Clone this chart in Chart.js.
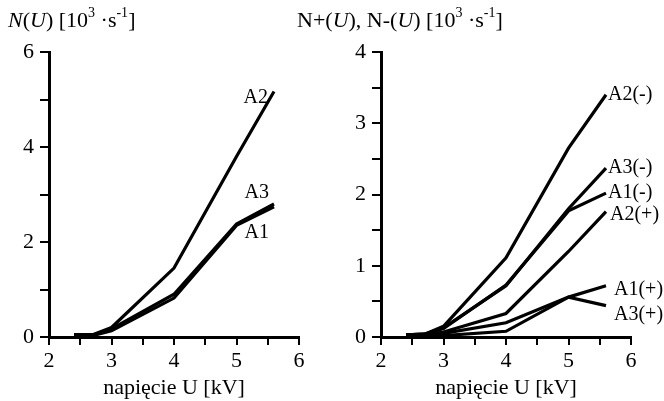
<!DOCTYPE html>
<html>
<head>
<meta charset="utf-8">
<script src="https://cdn.jsdelivr.net/npm/chart.js@4.4.1/dist/chart.umd.min.js"></script>
<style>
  html, body { margin: 0; padding: 0; background: #fff; }
  #wrap { position: relative; width: 664px; height: 401px; overflow: hidden; }
  canvas { position: absolute; top: 0; }
  #cLeft { left: 0; }
  #cRight { left: 332px; }
  .ytitle {
    position: absolute; top: 9px; white-space: nowrap;
    font-family: "Liberation Serif", serif; font-size: 22px; line-height: 22px; color: #000;
  }
  .ytitle sup { font-size: 14px; position: relative; top: -2px; line-height: 0; }
</style>
</head>
<body>
<div id="wrap">
  <canvas id="cLeft" width="332" height="401"></canvas>
  <canvas id="cRight" width="332" height="401"></canvas>
  <div class="ytitle" style="left:8px"><i>N</i>(<i>U</i>) [10<sup>3</sup> ·s<sup>-1</sup>]</div>
  <div class="ytitle" style="left:297px">N+(<i>U</i>), N-(<i>U</i>) [10<sup>3</sup> ·s<sup>-1</sup>]</div>
</div>
<script>
// voltage points (kV), shared by all curves
const voltage = [2.4, 2.7, 3, 4, 5, 5.6];

// left panel: N(U)
const leftNames = ["A1", "A2", "A3"];
const nA1 = [0.03, 0.03, 0.13, 0.82, 2.35, 2.74];
const nA2 = [0.05, 0.05, 0.2, 1.45, 3.8, 5.17];
const nA3 = [0.03, 0.04, 0.17, 0.9, 2.38, 2.8];

// right panel: N+(U), N-(U)
const rightNames = ["A2(-)", "A3(-)", "A1(-)", "A2(+)", "A1(+)", "A3(+)"];
const nA2minus = [0.03, 0.04, 0.15, 1.11, 2.65, 3.4];
const nA3minus = [0.03, 0.04, 0.13, 0.72, 1.8, 2.37];
const nA1minus = [0.03, 0.04, 0.12, 0.73, 1.77, 2.02];
const nA2plus = [0.03, 0.03, 0.07, 0.33, 1.2, 1.76];
const nA1plus = [0.03, 0.03, 0.05, 0.2, 0.56, 0.72];
const nA3plus = [0.03, 0.02, 0.02, 0.08, 0.56, 0.44];

const xTicks = [2, 3, 4, 5, 6];

const FONT = "'Liberation Serif', serif";

function pts(ys) {
  return voltage.map((v, i) => ({ x: v, y: ys[i] }));
}

function ds(label, ys) {
  return {
    label,
    data: pts(ys),
    borderColor: "#000",
    borderWidth: 3.2,
    pointRadius: 0,
    tension: 0,
    fill: false
  };
}

// curve name written next to the last point of each line
const endLabels = {
  id: "endLabels",
  afterDatasetsDraw(chart, args, opts) {
    const ctx = chart.ctx;
    const xs = chart.scales.x, ys = chart.scales.y;
    ctx.save();
    ctx.fillStyle = "#000";
    ctx.font = "20px " + FONT;
    ctx.textBaseline = "middle";
    chart.data.datasets.forEach((d, i) => {
      const last = d.data[d.data.length - 1];
      const o = opts.offsets[i];
      ctx.textAlign = o.align;
      ctx.fillText(d.label, xs.getPixelForValue(last.x) + o.dx, ys.getPixelForValue(last.y) + o.dy);
    });
    ctx.restore();
  }
};

function makeChart(id, datasets, yMax, yStep, yLabelEvery, offsets) {
  return new Chart(document.getElementById(id), {
    type: "line",
    data: { datasets },
    plugins: [endLabels],
    options: {
      responsive: false,
      animation: false,
      layout: { padding: { top: 52, right: 33, left: 0, bottom: 0 } },
      plugins: {
        legend: { display: false },
        tooltip: { enabled: false },
        endLabels: { offsets }
      },
      scales: {
        x: {
          type: "linear",
          min: 2, max: 6,
          afterFit: s => { s.height = 64; },
          border: { color: "#000", width: 3 },
          grid: { display: true, drawOnChartArea: false, color: "#000", lineWidth: 2, tickLength: 8 },
          ticks: {
            stepSize: 0.5,
            color: "#000",
            padding: 3,
            font: { family: FONT, size: 22 },
            callback: v => xTicks.includes(v) ? String(v) : ""
          },
          title: {
            display: true,
            text: "napięcie U [kV]",
            color: "#000",
            font: { family: FONT, size: 22 },
            padding: { top: -6, bottom: 0 }
          }
        },
        y: {
          min: 0, max: yMax,
          afterFit: s => { s.width = 49; },
          border: { color: "#000", width: 3 },
          grid: { display: true, drawOnChartArea: false, color: "#000", lineWidth: 2, tickLength: 9 },
          ticks: {
            stepSize: yStep,
            color: "#000",
            padding: 6,
            font: { family: FONT, size: 22 },
            callback: v => (Math.abs(v / yLabelEvery - Math.round(v / yLabelEvery)) < 1e-6) ? String(v) : ""
          }
        }
      }
    }
  });
}

makeChart("cLeft",
  [ds(leftNames[0], nA1), ds(leftNames[1], nA2), ds(leftNames[2], nA3)],
  6, 1, 2,
  [
    { align: "right", dx: -5, dy: 26 },
    { align: "right", dx: -6, dy: 6 },
    { align: "right", dx: -5, dy: -11 }
  ]);

makeChart("cRight",
  [
    ds(rightNames[0], nA2minus),
    ds(rightNames[1], nA3minus),
    ds(rightNames[2], nA1minus),
    ds(rightNames[3], nA2plus),
    ds(rightNames[4], nA1plus),
    ds(rightNames[5], nA3plus)
  ],
  4, 0.5, 1,
  [
    { align: "left", dx: 2, dy: 0 },
    { align: "left", dx: 2, dy: 0 },
    { align: "left", dx: 2, dy: 0 },
    { align: "left", dx: 4, dy: 3 },
    { align: "left", dx: 8, dy: 4 },
    { align: "left", dx: 8, dy: 9 }
  ]);
</script>
</body>
</html>
